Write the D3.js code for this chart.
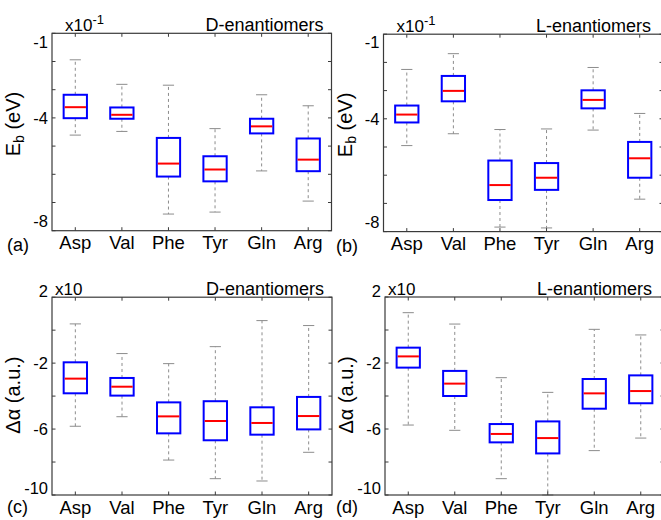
<!DOCTYPE html>
<html><head><meta charset="utf-8">
<script src="https://cdn.jsdelivr.net/npm/d3@7"></script>
<style>
body{margin:0;background:#fff;}
text{font-family:"Liberation Sans",Arial,sans-serif;fill:#000;}
</style></head>
<body><svg id="c" width="661" height="520"></svg>
<script>
const categories = ["Asp","Val","Phe","Tyr","Gln","Arg"];

// (a) Eb, D-enantiomers (x10^-1 eV)
const ebD_low  = [-4.61,-4.48,-7.41,-7.34,-5.88,-6.95];
const ebD_q1   = [-4.01,-4.03,-6.08,-6.25,-4.55,-5.89];
const ebD_med  = [-3.62,-3.89,-5.62,-5.83,-4.30,-5.48];
const ebD_q3   = [-3.18,-3.63,-4.71,-5.36,-4.03,-4.73];
const ebD_high = [-1.94,-2.81,-2.84,-4.38,-3.18,-3.57];
// (b) Eb, L-enantiomers
const ebL_low  = [-4.95,-4.53,-7.84,-7.87,-4.40,-6.85];
const ebL_q1   = [-4.13,-3.38,-6.88,-6.52,-3.63,-6.09];
const ebL_med  = [-3.85,-3.01,-6.35,-6.09,-3.33,-5.40];
const ebL_q3   = [-3.53,-2.48,-5.48,-5.57,-2.99,-4.82];
const ebL_high = [-2.25,-1.69,-4.38,-4.36,-2.18,-3.81];
// (c) Δα, D-enantiomers (x10 a.u.)
const daD_low  = [-5.83,-5.25,-7.88,-9.01,-9.15,-7.41];
const daD_q1   = [-3.83,-3.97,-6.26,-6.68,-6.34,-6.02];
const daD_med  = [-2.94,-3.43,-5.23,-5.51,-5.63,-5.21];
const daD_q3   = [-1.95,-2.90,-4.38,-4.31,-4.68,-4.05];
const daD_high = [0.38,-1.42,-2.03,-1.00,0.58,0.28];
// (d) Δα, L-enantiomers
const daL_low  = [-5.76,-6.08,-9.01,-10.0,-7.31,-6.55];
const daL_q1   = [-2.28,-4.00,-6.81,-7.48,-4.77,-4.44];
const daL_med  = [-1.60,-3.25,-6.30,-6.55,-3.84,-3.70];
const daL_q3   = [-1.07,-2.48,-5.70,-5.54,-2.97,-2.75];
const daL_high = [1.05,0.36,-2.89,-3.78,0.04,-0.30];

const ebDomain = [-8,-1], ebTicks = [-8,-7,-6,-5,-4,-3,-2,-1], ebLabels = [-1,-4,-8];
const daDomain = [-10,2], daTicks = [-10,-8,-6,-4,-2,0,2], daLabels = [2,-2,-6,-10];

const svg = d3.select("#c");

const panels = [
  {tag:"(a)", title:"D-enantiomers", ylab:"eb", mult:"-1", L:52, R:331.5, T:33.3, B:230.7, dom:ebDomain, ticks:ebTicks, labels:ebLabels,
   d:[ebD_low,ebD_q1,ebD_med,ebD_q3,ebD_high]},
  {tag:"(b)", title:"L-enantiomers", ylab:"eb", mult:"-1", L:383.5, R:663, T:34.2, B:231.6, dom:ebDomain, ticks:ebTicks, labels:ebLabels,
   d:[ebL_low,ebL_q1,ebL_med,ebL_q3,ebL_high]},
  {tag:"(c)", title:"D-enantiomers", ylab:"da", mult:null, L:52, R:332, T:297.2, B:495, dom:daDomain, ticks:daTicks, labels:daLabels,
   d:[daD_low,daD_q1,daD_med,daD_q3,daD_high]},
  {tag:"(d)", title:"L-enantiomers", ylab:"da", mult:null, L:385, R:664, T:297, B:495, dom:daDomain, ticks:daTicks, labels:daLabels,
   d:[daL_low,daL_q1,daL_med,daL_q3,daL_high]}
];

panels.forEach((p,pi)=>{
  const x = d3.scalePoint().domain(categories).range([p.L,p.R]).padding(0.5);
  const step = x.step();
  const y = d3.scaleLinear().domain(p.dom).range([p.B,p.T]);
  const g = svg.append("g");
  const frame = "#3a3a3a";

  const [lo,q1,md,q3,hi] = p.d;
  categories.forEach((c,i)=>{
    const cx = x(c);
    const bw = step*0.5, cw = step*0.24;
    g.append("line").attr("x1",cx).attr("x2",cx).attr("y1",y(q3[i])).attr("y2",y(hi[i]))
      .attr("stroke","#8c8c8c").attr("stroke-width",1).attr("stroke-dasharray","3,3");
    g.append("line").attr("x1",cx).attr("x2",cx).attr("y1",y(q1[i])).attr("y2",y(lo[i]))
      .attr("stroke","#8c8c8c").attr("stroke-width",1).attr("stroke-dasharray","3,3");
    [hi[i],lo[i]].forEach(v=>{
      g.append("line").attr("x1",cx-cw/2).attr("x2",cx+cw/2).attr("y1",y(v)).attr("y2",y(v))
        .attr("stroke","#8c8c8c").attr("stroke-width",1);
    });
    g.append("rect").attr("x",cx-bw/2).attr("width",bw).attr("y",y(q3[i])).attr("height",y(q1[i])-y(q3[i]))
      .attr("fill","none").attr("stroke","#0000ff").attr("stroke-width",2);
    g.append("line").attr("x1",cx-bw/2+1).attr("x2",cx+bw/2-1).attr("y1",y(md[i])).attr("y2",y(md[i]))
      .attr("stroke","#ff0000").attr("stroke-width",2);
  });

  const tk = 3.5;
  const ax = g.append("g").attr("stroke",frame).attr("stroke-width",1);
  p.ticks.forEach(v=>{
    ax.append("line").attr("x1",p.L).attr("x2",p.L+tk).attr("y1",y(v)).attr("y2",y(v));
    ax.append("line").attr("x1",p.R).attr("x2",p.R-tk).attr("y1",y(v)).attr("y2",y(v));
  });
  categories.forEach(c=>{
    ax.append("line").attr("x1",x(c)).attr("x2",x(c)).attr("y1",p.B).attr("y2",p.B-tk);
    ax.append("line").attr("x1",x(c)).attr("x2",x(c)).attr("y1",p.T).attr("y2",p.T+tk);
  });
  g.append("rect").attr("x",p.L).attr("y",p.T).attr("width",p.R-p.L).attr("height",p.B-p.T)
    .attr("fill","none").attr("stroke",frame).attr("stroke-width",1.2);

  const n = p.labels.length;
  p.labels.forEach((v,k)=>{
    let dy = 0;
    if (p.ylab==="eb") { if (k===0) dy = 8.5; if (k===n-1) dy = -9; }
    else { if (k===0) dy = -6; if (k===n-1) dy = -7; }
    g.append("text").attr("x",p.L-4).attr("y",y(v)+dy).attr("dy","0.35em")
      .attr("text-anchor","end").style("font-size","16.5px").text(v<0?"-"+Math.abs(v):String(v));
  });
  categories.forEach(c=>{
    g.append("text").attr("x",x(c)).attr("y",p.B+18.5).attr("text-anchor","middle")
      .style("font-size","18.5px").text(c);
  });

  if (p.mult) {
    const t = g.append("text").attr("x",p.L+13).attr("y",p.T-2).style("font-size","17px");
    t.append("tspan").text("x10");
    t.append("tspan").attr("dy",-7).style("font-size","13px").text(p.mult);
  } else {
    g.append("text").attr("x",p.L+3).attr("y",p.T-2).style("font-size","17px").text("x10");
  }
  g.append("text").attr("x",p.R-(pi%2===0?8:12)).attr("y",p.T-2).attr("text-anchor","end")
    .style("font-size","18px").text(p.title);

  const yc = (p.T+p.B)/2 + (p.ylab==="eb"?-8:-1);
  const xt = p.L-32;
  const yt = g.append("text").attr("transform",`translate(${xt},${yc}) rotate(-90)`)
    .attr("text-anchor","middle").style("font-size","20px");
  if (p.ylab==="eb") {
    yt.append("tspan").text("E");
    yt.append("tspan").attr("dy",4).style("font-size","14px").text("b");
    yt.append("tspan").attr("dy",-4).text(" (eV)");
  } else {
    yt.text("Δα (a.u.)");
  }
  g.append("text").attr("x",(pi%2===0?7:336)).attr("y",p.B+(pi<2?20:18)).style("font-size","18px").text(p.tag);
});
</script>
</body></html>
